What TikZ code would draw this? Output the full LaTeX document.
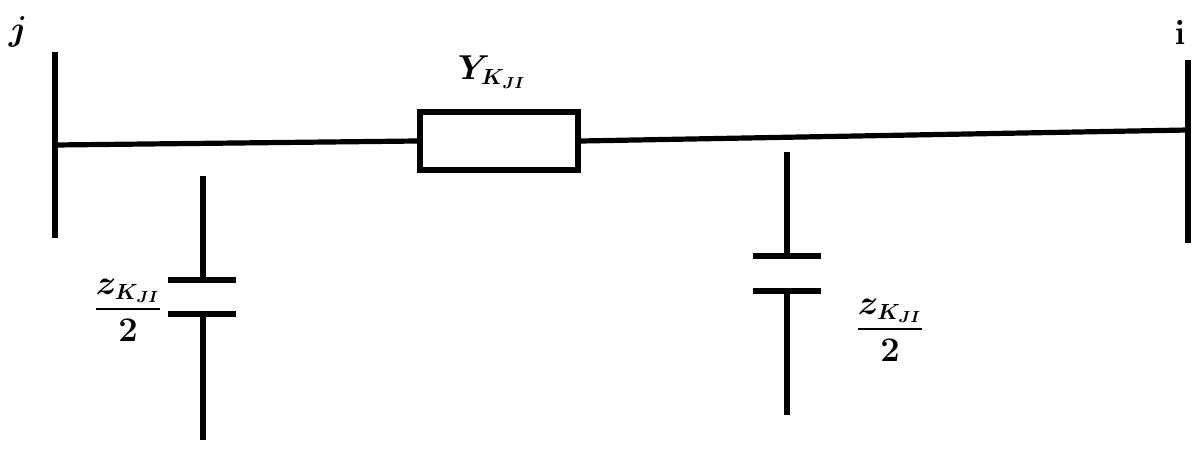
\documentclass[tikz,border=0pt]{standalone}
\usepackage{amsmath,bm}
\begin{document}
\begin{tikzpicture}[x=0.5pt,y=-0.5pt,
  wire/.style={line width=2.6pt},
  lbl/.style={font=\fontsize{16}{19}\selectfont}]
\useasboundingbox (0,0) rectangle (1200,450);
\coordinate (j1) at (55,52); \coordinate (j2) at (55,238);
\coordinate (i1) at (1188,60); \coordinate (i2) at (1188,243);
\draw[wire] (j1) -- (j2);
\draw[wire] (i1) -- (i2);
\node[lbl] (jl) at (18,32) {$\bm{j}$};
\node[lbl] (il) at (1180,32) {$\mathbf{i}$};
\node[wire,draw,minimum width=79pt,minimum height=29pt,inner sep=0pt] (Y) at (499,141) {};
\draw[wire] (55,145) -- (Y.west);
\draw[wire] (Y.east) -- (1188,130);
\node[lbl] (yl) at (492,72) {$\bm{Y_{K_{JI}}}$};
% left capacitor
\coordinate (a1) at (203,176); \coordinate (a2) at (203,280);
\coordinate (a3) at (203,314); \coordinate (a4) at (203,440);
\draw[wire] (a1) -- (a2); \draw[wire] (168,280) -- (236,280);
\draw[wire] (168,314) -- (236,314); \draw[wire] (a3) -- (a4);
\node[lbl] (zl) at (128,310) {$\dfrac{\bm{z_{K_{JI}}}}{\mathbf{2}}$};
% right capacitor
\coordinate (b1) at (787,152); \coordinate (b2) at (787,256);
\coordinate (b3) at (787,291); \coordinate (b4) at (787,415);
\draw[wire] (b1) -- (b2); \draw[wire] (753,256) -- (821,256);
\draw[wire] (753,291) -- (821,291); \draw[wire] (b3) -- (b4);
\node[lbl] (zr) at (890,330) {$\dfrac{\bm{z_{K_{JI}}}}{\mathbf{2}}$};
\end{tikzpicture}
\end{document}
